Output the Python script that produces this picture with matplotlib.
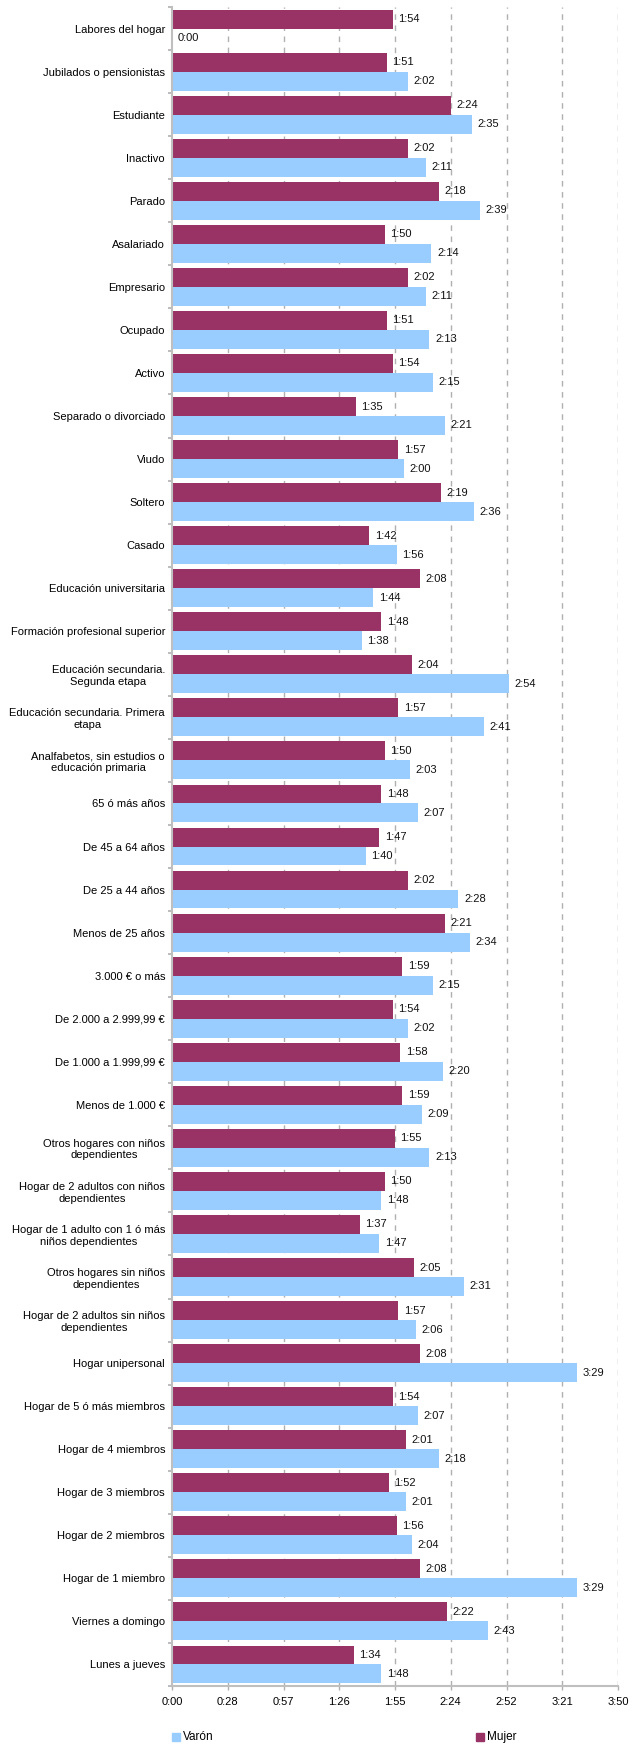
import matplotlib
matplotlib.use("Agg")
import matplotlib.pyplot as plt
from matplotlib.patches import Rectangle
import numpy as np

plt.rcParams['font.family'] = ['Liberation Sans', 'DejaVu Sans']

categories = [
    "Labores del hogar", "Jubilados o pensionistas", "Estudiante", "Inactivo", "Parado",
    "Asalariado", "Empresario", "Ocupado", "Activo", "Separado o divorciado", "Viudo",
    "Soltero", "Casado", "Educación universitaria", "Formación profesional superior",
    "Educación secundaria.\nSegunda etapa", "Educación secundaria. Primera\netapa",
    "Analfabetos, sin estudios o\neducación primaria", "65 ó más años", "De 45 a 64 años",
    "De 25 a 44 años", "Menos de 25 años", "3.000 € o más", "De 2.000 a 2.999,99 €",
    "De 1.000 a 1.999,99 €", "Menos de 1.000 €", "Otros hogares con niños\ndependientes",
    "Hogar de 2 adultos con niños\ndependientes", "Hogar de 1 adulto con 1 ó más\nniños dependientes",
    "Otros hogares sin niños\ndependientes", "Hogar de 2 adultos sin niños\ndependientes",
    "Hogar unipersonal", "Hogar de 5 ó más miembros", "Hogar de 4 miembros",
    "Hogar de 3 miembros", "Hogar de 2 miembros", "Hogar de 1 miembro",
    "Viernes a domingo", "Lunes a jueves",
]

mujer = ["1:54", "1:51", "2:24", "2:02", "2:18", "1:50", "2:02", "1:51", "1:54", "1:35",
         "1:57", "2:19", "1:42", "2:08", "1:48", "2:04", "1:57", "1:50", "1:48", "1:47",
         "2:02", "2:21", "1:59", "1:54", "1:58", "1:59", "1:55", "1:50", "1:37", "2:05",
         "1:57", "2:08", "1:54", "2:01", "1:52", "1:56", "2:08", "2:22", "1:34"]

varon = ["0:00", "2:02", "2:35", "2:11", "2:39", "2:14", "2:11", "2:13", "2:15", "2:21",
         "2:00", "2:36", "1:56", "1:44", "1:38", "2:54", "2:41", "2:03", "2:07", "1:40",
         "2:28", "2:34", "2:15", "2:02", "2:20", "2:09", "2:13", "1:48", "1:47", "2:31",
         "2:06", "3:29", "2:07", "2:18", "2:01", "2:04", "3:29", "2:43", "1:48"]

series_names = ["Varón", "Mujer"]
colors = {"Mujer": "#993366", "Varón": "#99CCFF"}


def to_min(s):
    h, m = s.split(":")
    return int(h) * 60 + int(m)


def fmt(v):
    v = int(np.floor(v + 1e-9))
    return f"{v // 60}:{v % 60:02d}"


mujer_m = np.array([to_min(s) for s in mujer])
varon_m = np.array([to_min(s) for s in varon])

W, H = 633, 1744
fig = plt.figure(figsize=(W / 100, H / 100), dpi=100)
ax_left, ax_right, ax_top, ax_bot = 172, 618, 7, 1686
ax = fig.add_axes([ax_left / W, 1 - ax_bot / H, (ax_right - ax_left) / W, (ax_bot - ax_top) / H])

n = len(categories)
y = np.arange(n)
bh = 0.44
ax.barh(y - bh / 2, mujer_m, height=bh, color=colors["Mujer"], zorder=3)
ax.barh(y + bh / 2, varon_m, height=bh, color=colors["Varón"], zorder=3)

for i in range(n):
    ax.annotate(fmt(mujer_m[i]), (mujer_m[i], y[i] - bh / 2), xytext=(4, 0),
                textcoords="offset points", va="center", ha="left", fontsize=8, color="#111111", zorder=5)
    ax.annotate(fmt(varon_m[i]), (varon_m[i], y[i] + bh / 2), xytext=(4, 0),
                textcoords="offset points", va="center", ha="left", fontsize=8, color="#111111", zorder=5)

xmax = 230.4
xt = np.arange(9) * 28.8
ax.set_xlim(0, xmax)
ax.set_ylim(n - 0.5, -0.5)
ax.set_xticks(xt)
ax.set_xticklabels([fmt(v) for v in xt], fontsize=8)
for v in xt[1:]:
    ax.axvline(v, color="#B0B0B0", lw=1.0, ls=(0, (4, 4)), zorder=1)

ax.set_yticks(np.arange(n + 1) - 0.5)
ax.set_yticklabels([])
ax.set_yticks(y, minor=True)
ax.set_yticklabels(categories, minor=True, fontsize=8, multialignment="center")
ax.tick_params(axis="y", which="minor", length=0, pad=5)
ax.tick_params(axis="y", which="major", length=3, color="#B0B0B0", width=1.2)
ax.tick_params(axis="x", length=3, color="#B0B0B0", width=1.0, pad=5)

for s in ["top", "right"]:
    ax.spines[s].set_visible(False)
ax.spines["left"].set_color("#BFBFBF")
ax.spines["left"].set_linewidth(1.5)
ax.spines["bottom"].set_color("#BFBFBF")
ax.spines["bottom"].set_linewidth(1.5)
ax.spines["left"].set_zorder(4)

# legend
ly = 1737
sq = 8
for name, x0 in [("Varón", 172), ("Mujer", 476)]:
    fig.patches.append(Rectangle((x0 / W, 1 - (ly + sq / 2) / H), sq / W, sq / H,
                                 transform=fig.transFigure, color=colors[name]))
    fig.text((x0 + sq + 3) / W, 1 - ly / H, name, fontsize=8.5, va="center", ha="left")

fig.savefig("out.png", dpi=100)
